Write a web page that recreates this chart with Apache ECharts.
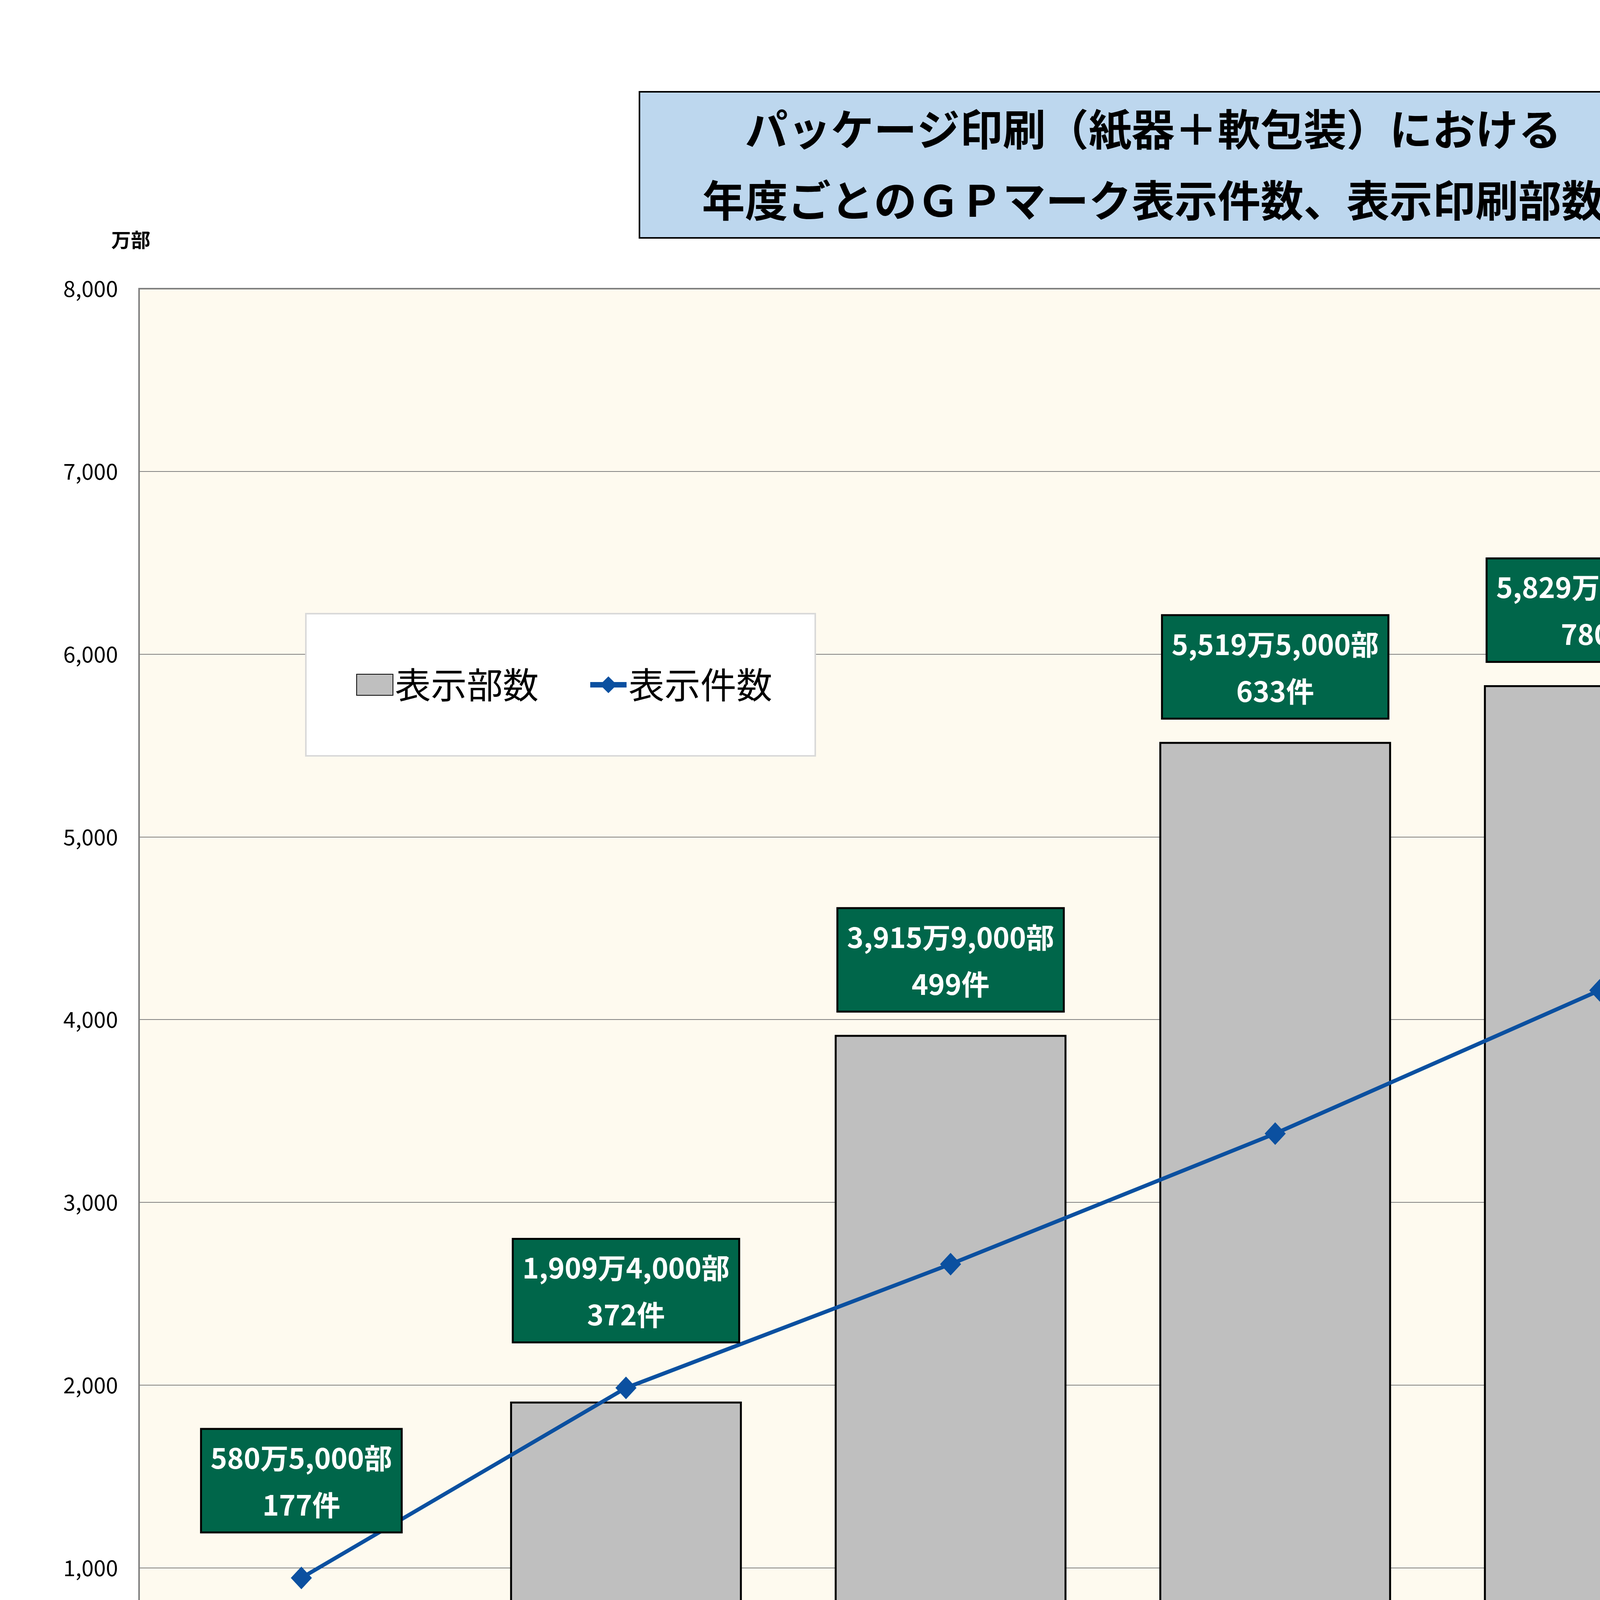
<!DOCTYPE html>
<html>
<head>
<meta charset="utf-8">
<script src="https://cdn.jsdelivr.net/npm/echarts@6/dist/echarts.min.js"></script>
<style>
  html, body { margin: 0; padding: 0; background: #fff; }
  #chart { width: 5904px; height: 4713px; }
</style>
</head>
<body>
<div id="chart"></div>
<script>
// 年度
const categories = ['2020年実績', '2021年実績', '2022年実績', '2023年実績', '2024年実績', '2025年実績'];
// 表示印刷部数（部）
const printCopies = [5805000, 19094000, 39159000, 55195000, 58298000, 66045000];
// 表示件数（件）
const markCounts = [177, 372, 499, 633, 780, 915];
// 軸の範囲
const leftAxis = { max: 8000, interval: 1000 };
const rightAxis = { max: 15, interval: 2 };

const FONT = '"Noto Sans CJK JP", "Noto Sans", sans-serif';

// 万部・百件に換算
const barValues = printCopies.map(v => v / 10000);
const lineValues = markCounts.map(v => v / 100);
// 折れ線の点が棒より上にあるときはラベルを折れ線側に付ける
const lineOnTop = barValues.map((b, i) => lineValues[i] / rightAxis.max > b / leftAxis.max);

function copiesText(v) {
  const man = Math.floor(v / 10000);
  const rest = v % 10000;
  return man.toLocaleString('en-US') + '万' + rest.toLocaleString('en-US') + '部';
}

const boxLabel = {
  position: 'top',
  color: '#fff',
  fontFamily: FONT,
  fontWeight: 'bold',
  fontSize: 72,
  lineHeight: 120,
  backgroundColor: '#00664A',
  borderColor: '#000',
  borderWidth: 5,
  padding: [12, 22, 8, 22],
  formatter: p => copiesText(printCopies[p.dataIndex]) + '\n' + markCounts[p.dataIndex] + '件'
};

const chart = echarts.init(document.getElementById('chart'));
chart.setOption({
  animation: false,
  backgroundColor: '#fff',
  title: {
    text: 'パッケージ印刷（紙器＋軟包装）における\n年度ごとのＧＰマーク表示件数、表示印刷部数',
    left: 'center',
    top: 235,
    padding: [5, 160],
    backgroundColor: '#BDD7EE',
    borderColor: '#000',
    borderWidth: 4,
    textStyle: {
      fontFamily: FONT,
      fontWeight: 'bold',
      fontSize: 110,
      lineHeight: 182,
      color: '#000'
    }
  },
  legend: {
    left: 783,
    top: 1571,
    orient: 'horizontal',
    backgroundColor: '#fff',
    borderColor: '#D9D9D9',
    borderWidth: 4,
    padding: [136, 110, 136, 129],
    itemWidth: 93,
    itemHeight: 54,
    itemGap: 125,
    lineStyle: { width: 14 },
    textStyle: { fontFamily: FONT, fontSize: 92, color: '#000' },
    data: [{ name: '表示部数', icon: 'rect' }, { name: '表示件数' }]
  },
  grid: {
    left: 356,
    right: 562,
    top: 739,
    bottom: 232,
    show: true,
    backgroundColor: '#FEFAEF',
    borderColor: '#808080',
    borderWidth: 4
  },
  xAxis: {
    type: 'category',
    data: categories,
    axisLine: { lineStyle: { color: '#808080', width: 4 } },
    axisTick: { show: true, inside: true, length: 22, lineStyle: { color: '#808080', width: 2 } },
    axisLabel: { fontFamily: FONT, fontSize: 64, color: '#000', margin: 52 }
  },
  yAxis: [
    {
      type: 'value',
      min: 0,
      max: leftAxis.max,
      interval: leftAxis.interval,
      name: '万部',
      nameLocation: 'end',
      nameGap: 100,
      nameTextStyle: { fontFamily: FONT, fontWeight: 'bold', fontSize: 50, color: '#000', padding: [0, 42, 0, 0] },
      axisLine: { show: true, lineStyle: { color: '#808080', width: 4 } },
      axisTick: { show: true, inside: true, length: 18, lineStyle: { color: '#808080', width: 2 } },
      splitLine: { show: true, lineStyle: { color: '#808080', width: 2 } },
      axisLabel: {
        fontFamily: FONT, fontSize: 56, color: '#000', margin: 54,
        formatter: v => v.toLocaleString('en-US')
      }
    },
    {
      type: 'value',
      min: 0,
      max: rightAxis.max,
      interval: rightAxis.interval,
      name: '百件',
      nameLocation: 'end',
      nameGap: 120,
      nameTextStyle: { fontFamily: FONT, fontWeight: 'bold', fontSize: 50, color: '#000', padding: [0, 0, 0, 102] },
      axisLine: { show: true, lineStyle: { color: '#808080', width: 4 } },
      axisTick: { show: false },
      splitLine: { show: false },
      axisLabel: { fontFamily: FONT, fontSize: 62, color: '#000', margin: 64, showMaxLabel: false }
    }
  ],
  series: [
    {
      name: '表示部数',
      type: 'bar',
      yAxisIndex: 0,
      barWidth: '71.4%',
      itemStyle: { color: '#BFBFBF', borderColor: '#000', borderWidth: 5 },
      label: Object.assign({}, boxLabel, { distance: 62 }),
      data: barValues.map((v, i) => ({ value: v, label: { show: !lineOnTop[i] } }))
    },
    {
      name: '表示件数',
      type: 'line',
      yAxisIndex: 1,
      symbol: 'diamond',
      symbolSize: [54, 58],
      color: '#0B50A0',
      lineStyle: { color: '#0B50A0', width: 10 },
      itemStyle: { color: '#0B50A0' },
      label: Object.assign({}, boxLabel, { distance: 90 }),
      z: 3,
      data: lineValues.map((v, i) => ({ value: v, label: { show: lineOnTop[i] } }))
    }
  ]
});
</script>
</body>
</html>
